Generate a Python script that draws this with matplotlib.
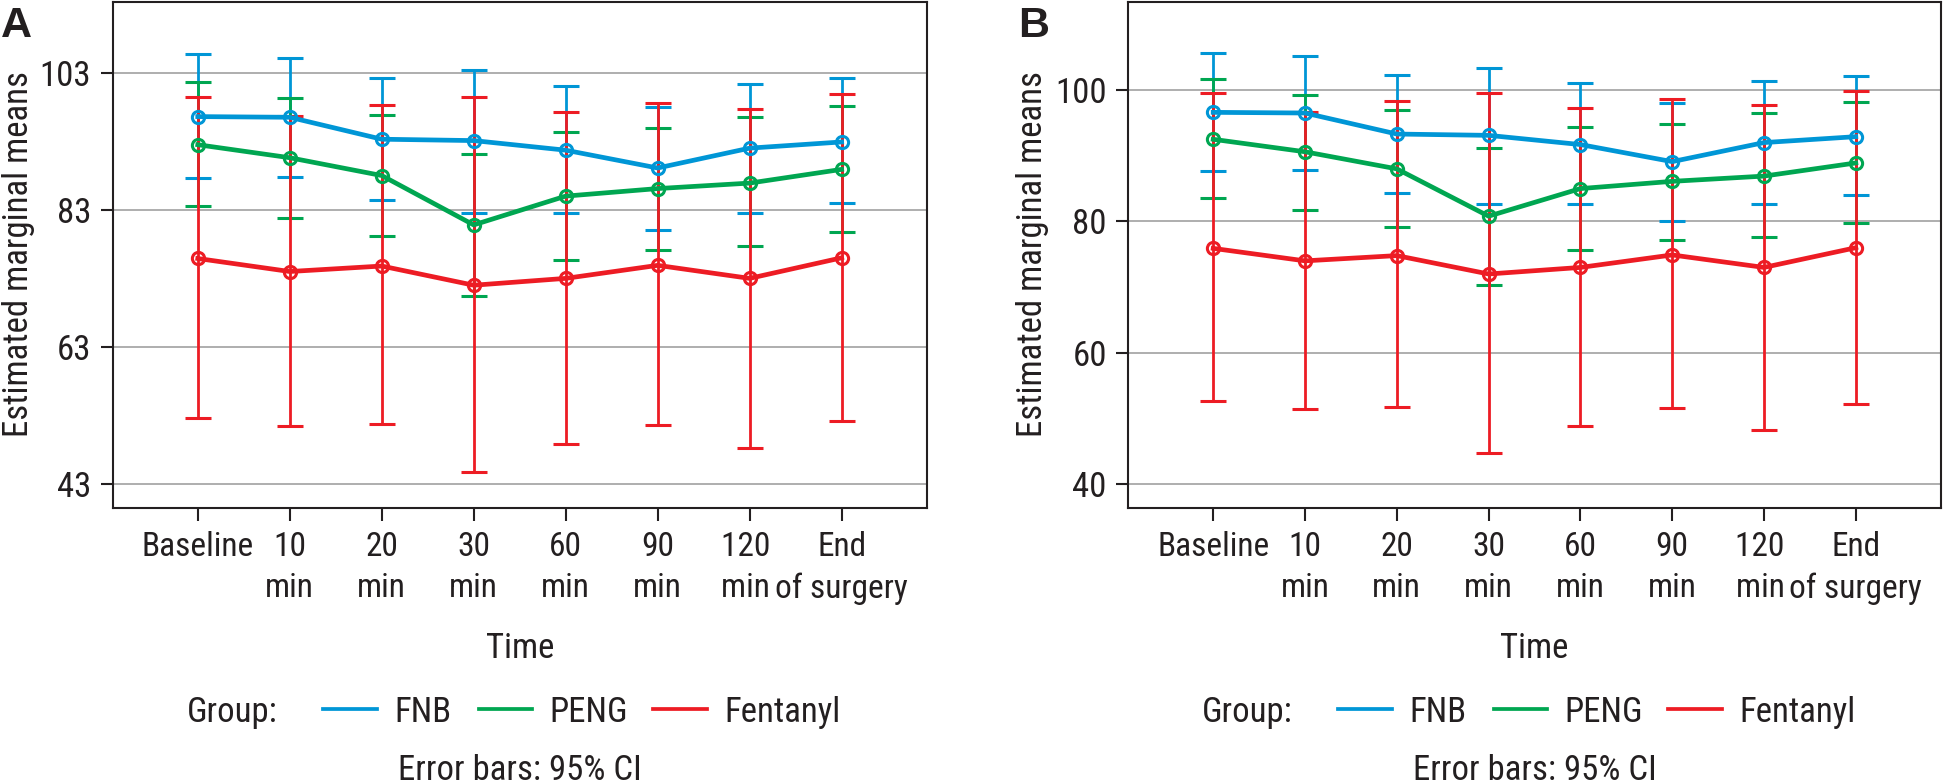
import matplotlib
matplotlib.use('Agg')
import matplotlib.pyplot as plt
from matplotlib import font_manager as fm
from matplotlib.lines import Line2D

# pick a narrow/condensed sans face if one is installed
def find_font():
    prefs = ['Liberation Sans Narrow', 'Roboto Condensed', 'Open Sans Condensed',
             'DejaVu Sans Condensed', 'Noto Sans Condensed']
    regular = []
    for f in fm.fontManager.ttflist:
        nm = f.name
        fn = f.fname.lower()
        cond = ('narrow' in fn or 'condensed' in fn or 'cond' in fn.split('/')[-1]
                or 'Narrow' in nm or 'Condensed' in nm)
        if cond and f.weight in (400, 'normal', 'regular') and f.style == 'normal':
            regular.append(f)
    for p in prefs:
        for f in regular:
            if p.split()[0] in f.name and ('narrow' in f.fname.lower() or 'cond' in f.fname.lower()):
                if p.startswith(f.name.split()[0]):
                    return f.fname
    if regular:
        return regular[0].fname
    return None

FPATH = find_font()
if FPATH:
    fm.fontManager.addfont(FPATH)
    fam = fm.FontProperties(fname=FPATH).get_name()
    FS = 25
else:
    fam = 'Liberation Sans'
    FS = 19.5
plt.rcParams['font.family'] = [fam, 'DejaVu Sans']
if FPATH and 'dejavu' in FPATH.lower():
    plt.rcParams['font.stretch'] = 'condensed'
    FS = 21
XFS = FS - 1

# ---------------- data ----------------
# ("120 min" carries a trailing space: in the original it sits a little left of its tick)
time_labels = ["Baseline", "10\nmin", "20\nmin", "30\nmin", "60\nmin",
               "90\nmin", "120 \nmin ", "End\nof surgery"]
groups = ["FNB", "PENG", "Fentanyl"]

fnb_mean = [96.6, 96.5, 93.3, 93.1, 91.7, 89.1, 92.0, 92.9]
fnb_upper = [105.7, 105.2, 102.3, 103.4, 101.0, 98.0, 101.4, 102.2]
fnb_lower = [87.6, 87.8, 84.4, 82.6, 82.6, 80.1, 82.6, 84.0]

peng_mean = [92.5, 90.6, 88.0, 80.8, 85.0, 86.1, 86.9, 88.9]
peng_upper = [101.6, 99.3, 96.9, 91.2, 94.3, 94.9, 96.5, 98.1]
peng_lower = [83.6, 81.8, 79.2, 70.4, 75.7, 77.1, 77.7, 79.7]

fent_mean = [75.9, 74.0, 74.8, 72.0, 73.0, 74.9, 73.0, 76.0]
fent_upper = [99.5, 96.7, 98.3, 99.5, 97.3, 98.6, 97.7, 99.9]
fent_lower = [52.6, 51.4, 51.8, 44.8, 48.9, 51.6, 48.2, 52.2]

yticks_a = [43, 63, 83, 103]
yticks_b = [40, 60, 80, 100]

series = [
    ("FNB", fnb_mean, fnb_lower, fnb_upper),
    ("PENG", peng_mean, peng_lower, peng_upper),
    ("Fentanyl", fent_mean, fent_lower, fent_upper),
]
colors = {"FNB": "#0096D6", "PENG": "#00A651", "Fentanyl": "#ED1C24"}
INK = "#231F20"

fig = plt.figure(figsize=(19.43, 7.84), dpi=100)
W, H = 1943.0, 784.0


def panel(rect, yticks, ylim, label_x):
    ax = fig.add_axes(rect)
    x = list(range(len(time_labels)))
    for name, m, lo, up in series:
        yerr = [[mi - l for mi, l in zip(m, lo)], [u - mi for mi, u in zip(m, up)]]
        ax.errorbar(x, m, yerr=yerr, color=colors[name], lw=3.4,
                    marker='o', ms=8.8, mfc='none', mec=colors[name], mew=2.2,
                    elinewidth=2.0, capsize=9.5, capthick=2.0, zorder=3)
    ax.set_xlim(-0.925, 7.925)
    ax.set_ylim(*ylim)
    ax.set_yticks(yticks)
    ax.set_xticks(x)
    ax.set_xticklabels(time_labels, fontsize=XFS, color=INK, linespacing=1.35)
    ax.tick_params(axis='y', labelsize=FS, labelcolor=INK, length=9, width=1.5,
                   color=INK, pad=6.5, direction='out')
    ax.tick_params(axis='x', length=9, width=1.5, color=INK, pad=8, direction='out')
    ax.grid(axis='y', color='#A8A8A8', lw=1.3, zorder=0)
    ax.set_axisbelow(True)
    for s in ax.spines.values():
        s.set_color(INK)
        s.set_linewidth(1.5)
    ax.set_ylabel("Estimated marginal means", fontsize=FS, color=INK)
    ax.yaxis.set_label_coords(label_x, 0.5)
    return ax


top = 1 - 1.5 / H
bottom = 1 - 507.6 / H
axA = panel([112.7 / W, bottom, 814 / W, top - bottom], yticks_a, (39.56, 113.39), -0.0955)
axB = panel([1128.3 / W, bottom, 812.4 / W, top - bottom], yticks_b, (36.45, 113.47), -0.0976)

fig.text(1 / W, 1 - 37 / H, "A", fontsize=31, fontweight='bold', color=INK,
         family='Liberation Sans', va='baseline', ha='left')
fig.text(1018 / W, 1 - 37 / H, "B", fontsize=31, fontweight='bold', color=INK,
         family='Liberation Sans', va='baseline', ha='left')

for cx in (519.7, 1534.5):
    fig.text(cx / W, 1 - 658 / H, "Time", fontsize=FS, color=INK, ha='center', va='baseline')
    fig.text(cx / W, 1 - 780 / H, "Error bars: 95% CI", fontsize=FS, color=INK,
             ha='center', va='baseline')
    yb = 1 - 722 / H
    yl = 1 - 708.7 / H
    fig.text((cx - 333) / W, yb, "Group:", fontsize=FS, color=INK, ha='left', va='baseline')
    legend_items = [("FNB", -197, -143, -125), ("PENG", -41, 12, 30), ("Fentanyl", 133, 187, 205)]
    for name, l0, l1, t0 in legend_items:
        fig.add_artist(Line2D([(cx + l0) / W, (cx + l1) / W], [yl, yl],
                              color=colors[name], lw=2.7, transform=fig.transFigure))
        fig.text((cx + t0) / W, yb, name, fontsize=FS, color=INK, ha='left', va='baseline')

fig.savefig("out.png", dpi=100)
